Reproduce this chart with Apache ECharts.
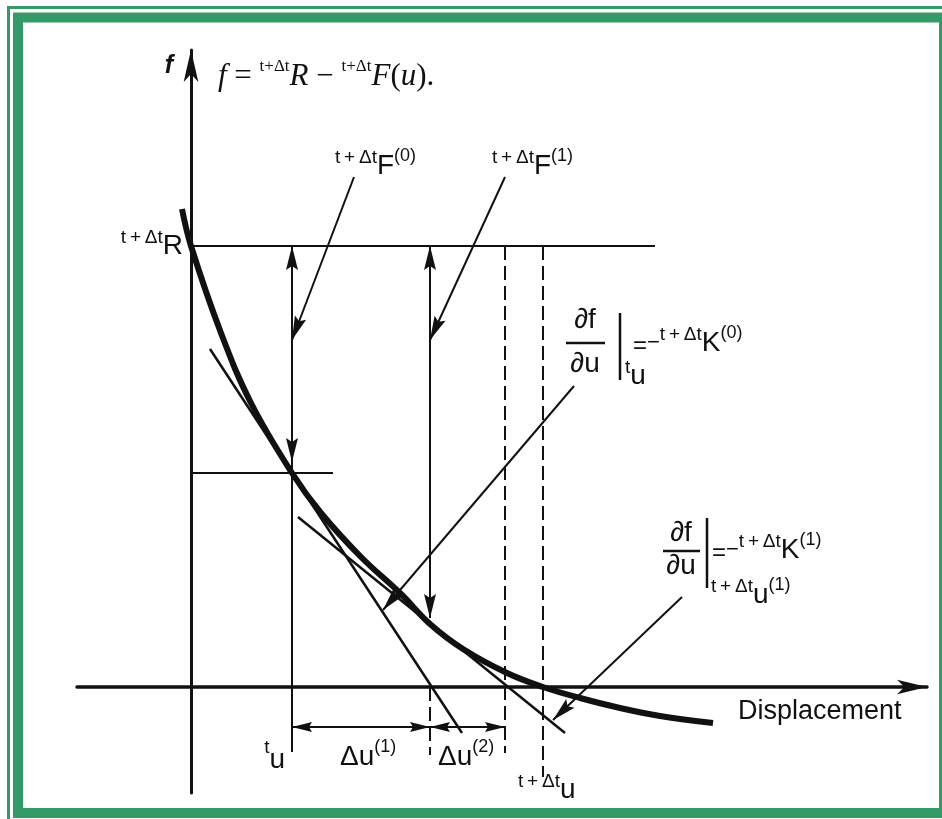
<!DOCTYPE html>
<html>
<head>
<meta charset="utf-8">
<script src="https://cdn.jsdelivr.net/npm/echarts@6/dist/echarts.min.js"></script>
<style>
  html, body { margin: 0; padding: 0; background: #fff; }
  #chart { width: 942px; height: 819px; }
</style>
</head>
<body>
<div id="chart"></div>
<script>
// Newton-Raphson iteration on the out-of-balance load f(u) = R - F(u)
// u: displacement, f: force (arbitrary units)

// Load curve, sampled points
const curveU = [-0.9, 0, 3, 6, 10.1, 13, 17, 21, 23.9, 27.2, 31.6, 35.2, 38.9, 42.9, 46.9, 52.2];
const curveF = [47.8, 44.1, 35.4, 28.4, 21.4, 17.4, 13.0, 9.3, 6.3, 3.8, 1.4, 0, -1.1, -2.1, -2.9, -3.6];

// Load level and iterates
const loadR = 44.1;          // t+Δt R
const uT = 10.1, fT = 21.4;  // t u
const u1 = 23.9, f1 = 6.9;   // t+Δt u(1)
const u2 = 31.4;             // t+Δt u(2)
const uNew = 35.2;           // t+Δt u
const dimF = -4.0;           // level of the Δu dimension lines

// Tangent stiffness lines
const tangentLines = [
  [[1.9, 33.8], [27.1, -4.6]],
  [[10.7, 17.0], [37.4, -4.6]]
];

// Thin solid lines: load level, t u level, iterate verticals, dimensions, leaders
const solidLines = [
  [[0, loadR], [46.4, loadR]],
  [[0, fT], [14.2, fT]],
  [[uT, loadR], [uT, -6.5]],
  [[u1, loadR], [u1, f1]],
  [[uT, dimF], [u1, dimF]],
  [[u1, dimF], [u2, dimF]],
  [[16.3, 51.0], [uT, 34.7]],
  [[31.4, 51.0], [u1, 34.7]],
  [[38.3, 30.1], [19.2, 7.7]],
  [[49.1, 9.0], [36.2, -3.3]]
];

// Fraction bars and evaluation bars of the derivative labels
const barLines = [
  [[37.5, 34.4], [41.4, 34.4]],
  [[42.9, 37.4], [42.9, 30.7]],
  [[47.2, 13.6], [50.9, 13.6]],
  [[51.6, 16.9], [51.6, 9.9]]
];

// Dashed verticals at the iterates
const dashedLines = [
  [[u1, 0], [u1, -6.8]],
  [[u2, loadR], [u2, -6.6]],
  [[uNew, loadR], [uNew, -9.0]]
];

// Arrowheads: [tip, point the shaft comes from]
const arrowHeads = [
  [[uT, loadR], [uT, fT]],
  [[uT, 22.5], [uT, loadR]],
  [[u1, loadR], [u1, f1]],
  [[u1, f1], [u1, loadR]],
  [[uT, 34.7], [16.3, 51.0]],
  [[u1, 34.7], [31.4, 51.0]],
  [[19.2, 7.7], [38.3, 30.1]],
  [[36.2, -3.3], [49.1, 9.0]]
];
const dimArrowHeads = [
  [[uT, dimF], [u1, dimF]],
  [[u1, dimF], [uT, dimF]],
  [[u1, dimF], [u2, dimF]],
  [[u2, dimF], [u1, dimF]]
];

// Text annotations
const TD = 't\u2009+\u2009Δt';
const labelText = [
  '{ax|f}',
  '{i|f}{n| = }{q|t+Δt}{i|R}{n| − }{q|t+Δt}{i|F}{n|(}{i|u}{n|).}',
  '{s|' + TD + '}{b|R}',
  '{s|' + TD + '}{b|F}{p|(0)}',
  '{s|' + TD + '}{b|F}{p|(1)}',
  '{d|∂f}', '{d|∂u}',
  '{e|=}{m|−}{s|' + TD + '}{b|K}{p|(0)}',
  '{s|t}{b|u}',
  '{d|∂f}', '{d|∂u}',
  '{e|=}{m|−}{s|' + TD + '}{b|K}{p|(1)}',
  '{s|' + TD + '}{b|u}{p|(1)}',
  '{x|Displacement}',
  '{r|t}{b|u}',
  '{b|Δu}{p|(1)}',
  '{b|Δu}{p|(2)}',
  '{s|' + TD + '}{b|u}'
];
const labelAt = [
  [-2.2, 62.1], [2.7, 61.0], [-0.8, 44.1], [14.4, 52.1], [30.1, 52.1],
  [39.4, 36.7], [39.4, 32.3], [44.2, 34.4], [43.4, 31.1],
  [49.0, 15.4], [49.0, 12.1], [52.1, 13.7], [52.0, 9.2],
  [54.7, -2.5], [9.4, -7.3], [14.9, -7.0], [24.7, -7.0], [32.7, -10.3]
];
const labelAlign = ['center', 'left', 'right', 'left', 'left', 'center', 'center', 'left', 'left',
  'center', 'center', 'left', 'left', 'left', 'right', 'left', 'left', 'left'];

const SANS = "'Liberation Sans', Arial, Helvetica, sans-serif";
const SERIF = "'Liberation Serif', 'Times New Roman', serif";
const INK = '#111';
const GREEN = '#349a67';

const rich = {
  ax: { fontFamily: SANS, fontSize: 25, fontWeight: 'bold', fontStyle: 'italic' },
  i: { fontFamily: SERIF, fontSize: 31, fontStyle: 'italic' },
  n: { fontFamily: SERIF, fontSize: 31 },
  q: { fontFamily: SERIF, fontSize: 17, padding: [0, 0, 20, 0] },
  s: { fontFamily: SANS, fontSize: 19, padding: [0, 0, 16, 0] },
  r: { fontFamily: SANS, fontSize: 19, padding: [0, 0, 24, 0] },
  b: { fontFamily: SANS, fontSize: 28 },
  p: { fontFamily: SANS, fontSize: 18, padding: [0, 0, 20, 0] },
  d: { fontFamily: SANS, fontSize: 28 },
  e: { fontFamily: SANS, fontSize: 24, padding: [6, 0, 0, 0] },
  m: { fontFamily: SANS, fontSize: 22 },
  x: { fontFamily: SANS, fontSize: 27 }
};

function segmentSeries(segs, style) {
  return {
    type: 'custom', coordinateSystem: 'cartesian2d', silent: true, z: 3,
    data: segs.map(s => [s[0][0], s[0][1], s[1][0], s[1][1]]),
    encode: { x: [0, 2], y: [1, 3] },
    renderItem: (params, api) => {
      const a = api.coord([api.value(0), api.value(1)]);
      const b = api.coord([api.value(2), api.value(3)]);
      return {
        type: 'line',
        shape: { x1: a[0], y1: a[1], x2: b[0], y2: b[1] },
        style: Object.assign({ stroke: INK, fill: null, lineCap: 'butt' }, style)
      };
    }
  };
}

function arrowSeries(heads, len, half, notch) {
  return {
    type: 'custom', coordinateSystem: 'cartesian2d', silent: true, z: 4,
    data: heads.map(h => [h[0][0], h[0][1], h[1][0], h[1][1]]),
    encode: { x: [0, 2], y: [1, 3] },
    renderItem: (params, api) => {
      const t = api.coord([api.value(0), api.value(1)]);
      const o = api.coord([api.value(2), api.value(3)]);
      let dx = t[0] - o[0], dy = t[1] - o[1];
      const d = Math.hypot(dx, dy); dx /= d; dy /= d;
      const bx = t[0] - dx * len, by = t[1] - dy * len;
      const nx = t[0] - dx * (len - notch), ny = t[1] - dy * (len - notch);
      return {
        type: 'polygon',
        shape: { points: [t, [bx - dy * half, by + dx * half], [nx, ny], [bx + dy * half, by - dx * half]] },
        style: { fill: INK }
      };
    }
  };
}

const chart = echarts.init(document.getElementById('chart'), null, { renderer: 'canvas' });

chart.setOption({
  animation: false,
  backgroundColor: '#fff',
  grid: { left: 77, top: 50, width: 850, height: 743 },
  xAxis: {
    type: 'value', min: -11.4, max: 73.6,
    axisLine: { onZero: true, symbol: ['none', 'arrow'], symbolSize: [11, 30], lineStyle: { color: INK, width: 3.5 } },
    axisTick: { show: false }, axisLabel: { show: false }, splitLine: { show: false }
  },
  yAxis: {
    type: 'value', min: -10.6, max: 63.7,
    axisLine: { onZero: true, symbol: ['none', 'arrow'], symbolSize: [11, 32], lineStyle: { color: INK, width: 3 } },
    axisTick: { show: false }, axisLabel: { show: false }, splitLine: { show: false }
  },
  graphic: [
    { type: 'rect', silent: true, shape: { x: 8.5, y: 7.5, width: 960, height: 900 },
      style: { fill: null, stroke: GREEN, lineWidth: 3 } },
    { type: 'rect', silent: true, shape: { x: 18, y: 17.5, width: 926, height: 795.5 },
      style: { fill: null, stroke: GREEN, lineWidth: 10 } }
  ],
  series: [
    segmentSeries(solidLines, { lineWidth: 2 }),
    segmentSeries(barLines, { lineWidth: 2.5 }),
    segmentSeries(dashedLines, { lineWidth: 2, lineDash: [14, 6] }),
    segmentSeries(tangentLines, { lineWidth: 2.5 }),
    {
      type: 'line', silent: true, z: 5,
      data: curveU.map((u, i) => [u, curveF[i]]),
      smooth: 0.4, showSymbol: false,
      lineStyle: { color: INK, width: 6 }
    },
    arrowSeries(arrowHeads, 24, 6, 4),
    arrowSeries(dimArrowHeads, 20, 5, 3),
    {
      type: 'custom', coordinateSystem: 'cartesian2d', silent: true, z: 6,
      data: labelAt.map(p => [p[0], p[1]]),
      renderItem: (params, api) => {
        const p = api.coord([api.value(0), api.value(1)]);
        const i = params.dataIndex;
        return {
          type: 'text', x: p[0], y: p[1],
          style: { text: labelText[i], rich: rich, fill: INK, align: labelAlign[i], verticalAlign: 'middle' }
        };
      }
    }
  ]
});
</script>
</body>
</html>
